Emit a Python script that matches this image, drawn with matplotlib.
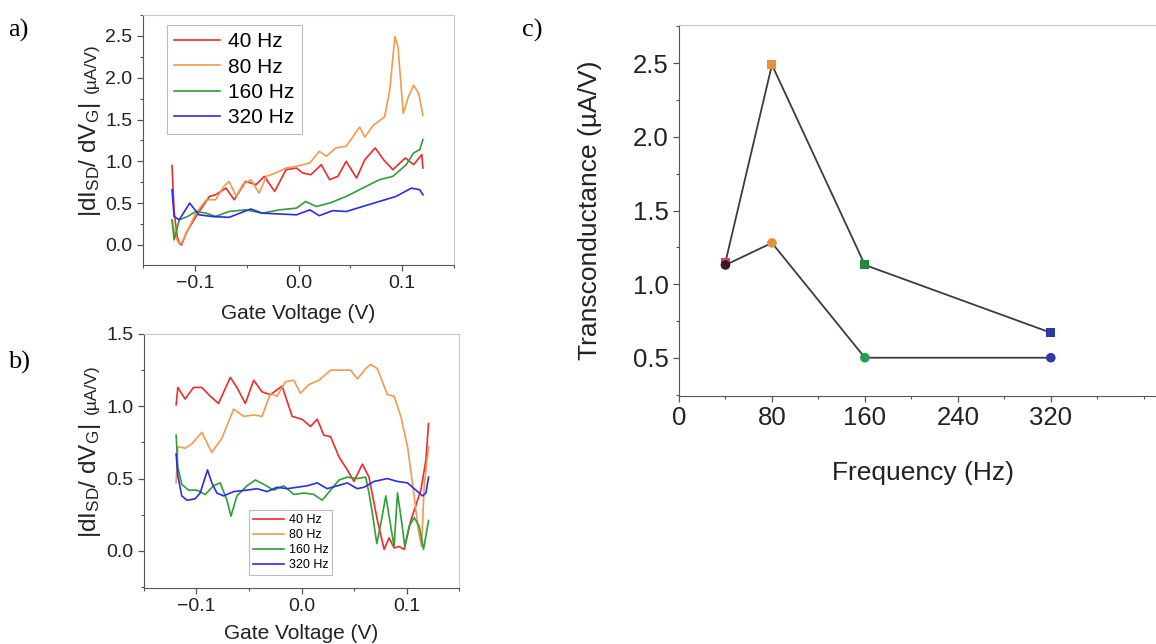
import matplotlib
matplotlib.use('Agg')
import matplotlib.pyplot as plt
from matplotlib.ticker import MultipleLocator

plt.rcParams['font.family'] = ['Liberation Sans', 'DejaVu Sans']
plt.rcParams['mathtext.fontset'] = 'custom'
plt.rcParams['mathtext.rm'] = 'Liberation Sans'
plt.rcParams['mathtext.it'] = 'Liberation Sans:italic'

# ---------------- data ----------------
labels = ['40 Hz', '80 Hz', '160 Hz', '320 Hz']
colors = ['#ee2b2b', '#f39a4f', '#2f9e35', '#2b2bee']

# panel a)
a_red_x = [-0.122, -0.120, -0.117, -0.115, -0.113, -0.108, -0.099, -0.086, -0.080, -0.070, -0.062, -0.051,
           -0.041, -0.033, -0.023, -0.012, -0.002, 0.004, 0.012, 0.022, 0.030, 0.038, 0.046, 0.056, 0.064,
           0.074, 0.082, 0.091, 0.103, 0.111, 0.119, 0.120]
a_red_y = [0.95, 0.40, 0.10, 0.02, 0.00, 0.15, 0.34, 0.58, 0.60, 0.68, 0.54, 0.76,
           0.72, 0.82, 0.64, 0.90, 0.92, 0.86, 0.84, 0.96, 0.78, 0.82, 1.00, 0.80, 1.02,
           1.16, 1.02, 0.90, 1.04, 0.96, 1.08, 0.92]
a_orange_x = [-0.122, -0.119, -0.116, -0.113, -0.109, -0.099, -0.089, -0.080, -0.072, -0.067, -0.060, -0.054,
              -0.046, -0.038, -0.031, -0.022, -0.012, -0.002, 0.011, 0.020, 0.027, 0.036, 0.046, 0.059,
              0.064, 0.072, 0.083, 0.088, 0.093, 0.096, 0.101, 0.106, 0.111, 0.116, 0.120]
a_orange_y = [0.30, 0.12, 0.03, 0.02, 0.12, 0.38, 0.54, 0.54, 0.70, 0.76, 0.58, 0.72,
              0.78, 0.62, 0.82, 0.86, 0.92, 0.94, 0.98, 1.12, 1.06, 1.16, 1.18, 1.41,
              1.29, 1.43, 1.53, 1.85, 2.49, 2.37, 1.57, 1.77, 1.91, 1.81, 1.55]
a_green_x = [-0.122, -0.120, -0.115, -0.107, -0.099, -0.089, -0.080, -0.067, -0.051, -0.035, -0.018, -0.002,
             0.007, 0.017, 0.030, 0.046, 0.062, 0.078, 0.091, 0.104, 0.111, 0.117, 0.120]
a_green_y = [0.30, 0.06, 0.30, 0.34, 0.40, 0.38, 0.34, 0.40, 0.42, 0.38, 0.42, 0.44,
             0.52, 0.46, 0.50, 0.58, 0.68, 0.78, 0.82, 0.96, 1.10, 1.14, 1.26]
a_blue_x = [-0.122, -0.120, -0.115, -0.105, -0.096, -0.083, -0.067, -0.046, -0.035, -0.018, -0.002, 0.011,
            0.020, 0.033, 0.046, 0.062, 0.078, 0.094, 0.109, 0.117, 0.120]
a_blue_y = [0.66, 0.34, 0.30, 0.50, 0.36, 0.34, 0.33, 0.43, 0.38, 0.37, 0.36, 0.42,
            0.35, 0.41, 0.40, 0.46, 0.52, 0.58, 0.68, 0.66, 0.60]

# panel b)
b_red_x = [-0.1194, -0.1178, -0.1108, -0.1029, -0.0949, -0.0869, -0.0790, -0.0678, -0.0615, -0.0535, -0.0455,
           -0.0376, -0.0296, -0.0185, -0.0089, 0.0006, 0.0086, 0.0150, 0.0213, 0.0277, 0.0357, 0.0436,
           0.0500, 0.0580, 0.0643, 0.0723, 0.0787, 0.0834, 0.0882, 0.0930, 0.0978, 0.1041, 0.1137,
           0.1185, 0.1210]
b_red_y = [1.01, 1.13, 1.05, 1.13, 1.13, 1.07, 1.02, 1.20, 1.13, 1.02, 1.18,
           1.10, 1.08, 1.14, 0.93, 0.91, 0.86, 0.91, 0.80, 0.79, 0.65, 0.56,
           0.48, 0.60, 0.51, 0.21, 0.01, 0.09, 0.02, 0.03, 0.01, 0.21, 0.42,
           0.63, 0.88]
b_orange_x = [-0.1194, -0.1178, -0.1108, -0.1045, -0.0949, -0.0854, -0.0758, -0.0646, -0.0551, -0.0455,
              -0.0376, -0.0296, -0.0232, -0.0153, -0.0073, -0.0010, 0.0070, 0.0166, 0.0277, 0.0389,
              0.0468, 0.0532, 0.0611, 0.0659, 0.0723, 0.0818, 0.0882, 0.0946, 0.1010, 0.1073,
              0.1111, 0.1143, 0.1169, 0.1210]
b_orange_y = [0.47, 0.72, 0.71, 0.74, 0.82, 0.68, 0.78, 0.98, 0.93, 0.94,
              0.93, 1.09, 1.07, 1.17, 1.18, 1.09, 1.15, 1.18, 1.25, 1.25,
              1.25, 1.19, 1.26, 1.29, 1.26, 1.08, 1.07, 0.93, 0.72, 0.38,
              0.15, 0.03, 0.45, 0.72]
b_green_x = [-0.1194, -0.1178, -0.1140, -0.1076, -0.0997, -0.0917, -0.0838, -0.0774, -0.0710, -0.0672,
             -0.0615, -0.0519, -0.0439, -0.0360, -0.0264, -0.0169, -0.0073, 0.0022, 0.0118, 0.0197,
             0.0277, 0.0357, 0.0436, 0.0532, 0.0611, 0.0643, 0.0675, 0.0717, 0.0761, 0.0803,
             0.0850, 0.0882, 0.0914, 0.0952, 0.0984, 0.1025, 0.1073, 0.1121, 0.1162, 0.1210]
b_green_y = [0.80, 0.58, 0.46, 0.42, 0.42, 0.39, 0.45, 0.47, 0.35, 0.24,
             0.38, 0.45, 0.49, 0.46, 0.42, 0.45, 0.39, 0.40, 0.39, 0.35,
             0.42, 0.49, 0.51, 0.50, 0.51, 0.40, 0.26, 0.05, 0.21, 0.38,
             0.17, 0.03, 0.40, 0.21, 0.03, 0.17, 0.23, 0.17, 0.01, 0.21]
b_blue_x = [-0.1194, -0.1178, -0.1140, -0.1090, -0.1013, -0.0965, -0.0895, -0.0854, -0.0806, -0.0742,
            -0.0646, -0.0519, -0.0424, -0.0328, -0.0232, -0.0137, -0.0041, 0.0054, 0.0150, 0.0245,
            0.0341, 0.0436, 0.0532, 0.0596, 0.0691, 0.0818, 0.0914, 0.1010, 0.1089, 0.1153,
            0.1185, 0.1210]
b_blue_y = [0.67, 0.52, 0.38, 0.35, 0.36, 0.40, 0.56, 0.47, 0.40, 0.38,
            0.41, 0.42, 0.43, 0.41, 0.44, 0.43, 0.44, 0.45, 0.47, 0.43,
            0.45, 0.47, 0.43, 0.44, 0.48, 0.50, 0.48, 0.47, 0.42, 0.38,
            0.40, 0.51]

# panel c)
freq = [40, 80, 160, 320]
gm_square = [1.15, 2.49, 1.13, 0.67]
gm_circle = [1.13, 1.28, 0.50, 0.50]
square_colors = ['#e0405a', '#e8913a', '#1f8a3e', '#2a3aa0']
circle_colors = ['#3a1a22', '#e8913a', '#22a050', '#2f3aa5']

# ---------------- figure ----------------
fig = plt.figure(figsize=(11.56, 6.44), dpi=100)
W, H = 1156.0, 644.0


def axes_px(left, top, right, bottom):
    """Crea unos ejes a partir de coordenadas en píxeles."""
    return fig.add_axes([left / W, 1 - bottom / H, (right - left) / W, (bottom - top) / H])


def style_axes(ax, tick_size):
    for side in ['top', 'right']:
        ax.spines[side].set_color('#c8c8c8')
    for side in ['left', 'bottom']:
        ax.spines[side].set_color('#555555')
    ax.tick_params(which='both', direction='out', colors='#555555', labelcolor='#222222',
                   labelsize=tick_size, top=False, right=False)
    ax.tick_params(which='major', length=4, width=0.9)
    ax.tick_params(which='minor', length=2.5, width=0.8)


def ylabel_split(x_px, y_px, gap_px):
    """Etiqueta |dI_SD/dV_G| grande seguida de (µA/V) pequeña, rotada."""
    t = fig.text(x_px / W, 1 - y_px / H, r'|dI$_\mathrm{SD}$/ dV$_\mathrm{G}$|', fontsize=17.5,
                 rotation=90, rotation_mode='anchor', ha='left', va='baseline', color='#222222')
    fig.canvas.draw()
    bb = t.get_window_extent()
    fig.text(x_px / W, (bb.y1 + gap_px) / H, '(µA/V)', fontsize=12.5,
             rotation=90, rotation_mode='anchor', ha='left', va='baseline', color='#222222')


# a)
ax_a = axes_px(143, 15, 454, 265)
for xs, ys, c, lab in zip([a_red_x, a_orange_x, a_green_x, a_blue_x],
                          [a_red_y, a_orange_y, a_green_y, a_blue_y], colors, labels):
    ax_a.plot(xs, ys, color=c, lw=1.2, label=lab)
ax_a.set_xlim(-0.15, 0.15)
ax_a.set_ylim(-0.24, 2.75)
ax_a.set_xticks([-0.1, 0.0, 0.1])
ax_a.xaxis.set_minor_locator(MultipleLocator(0.05))
ax_a.yaxis.set_major_locator(MultipleLocator(0.5))
ax_a.yaxis.set_minor_locator(MultipleLocator(0.25))
style_axes(ax_a, 14)
ax_a.set_xlabel('Gate Voltage (V)', fontsize=15, labelpad=8, color='#222222')
leg = ax_a.legend(loc='upper left', bbox_to_anchor=(0.077, 0.96), borderaxespad=0, fontsize=15,
                  handlelength=2.2, labelspacing=0.3, handletextpad=0.4, borderpad=0.35,
                  fancybox=False, edgecolor='#aaaaaa')
leg.get_frame().set_linewidth(0.8)

# b)
ax_b = axes_px(144, 334, 459, 588)
for xs, ys, c, lab in zip([b_red_x, b_orange_x, b_green_x, b_blue_x],
                          [b_red_y, b_orange_y, b_green_y, b_blue_y], colors, labels):
    ax_b.plot(xs, ys, color=c, lw=1.2, label=lab)
ax_b.set_xlim(-0.15, 0.15)
ax_b.set_ylim(-0.257, 1.5)
ax_b.set_xticks([-0.1, 0.0, 0.1])
ax_b.xaxis.set_minor_locator(MultipleLocator(0.05))
ax_b.yaxis.set_major_locator(MultipleLocator(0.5))
ax_b.yaxis.set_minor_locator(MultipleLocator(0.25))
style_axes(ax_b, 14)
ax_b.set_xlabel('Gate Voltage (V)', fontsize=15, labelpad=6, color='#222222')
leg = ax_b.legend(loc='lower left', bbox_to_anchor=(0.333, 0.051), borderaxespad=0, fontsize=9,
                  handlelength=2.5, labelspacing=0.25, handletextpad=0.4, borderpad=0.3,
                  fancybox=False, edgecolor='#aaaaaa')
leg.get_frame().set_linewidth(0.8)

# c)
ax_c = axes_px(679, 25, 1167, 396)
ax_c.plot(freq, gm_square, color='#3c3c3c', lw=1.3, zorder=2)
ax_c.plot(freq, gm_circle, color='#3c3c3c', lw=1.3, zorder=2)
ax_c.scatter(freq, gm_square, marker='s', s=42, c=square_colors, zorder=3, linewidths=0)
ax_c.scatter(freq, gm_circle, marker='o', s=48, c=circle_colors, zorder=4, linewidths=0)
ax_c.set_xlim(0, 420)
ax_c.set_ylim(0.24, 2.76)
ax_c.set_xticks([0, 80, 160, 240, 320])
ax_c.xaxis.set_minor_locator(MultipleLocator(40))
ax_c.yaxis.set_major_locator(MultipleLocator(0.5))
ax_c.yaxis.set_minor_locator(MultipleLocator(0.25))
style_axes(ax_c, 18.5)
ax_c.spines['right'].set_visible(False)
ax_c.set_xlabel('Frequency (Hz)', fontsize=19, labelpad=22, color='#222222')
ax_c.set_ylabel('Transconductance (µA/V)', fontsize=19, labelpad=22, color='#222222')

# etiquetas de eje y de los paneles a) y b)
ylabel_split(96, 217, 10)
ylabel_split(96, 538, 10)

# letras de panel
for txt, x, y in [('a)', 8, 30), ('b)', 8, 362), ('c)', 522, 30)]:
    fig.text(x / W, 1 - y / H, txt, fontsize=19, family='Liberation Serif', va='center', ha='left')

fig.savefig('out.png', dpi=100)
